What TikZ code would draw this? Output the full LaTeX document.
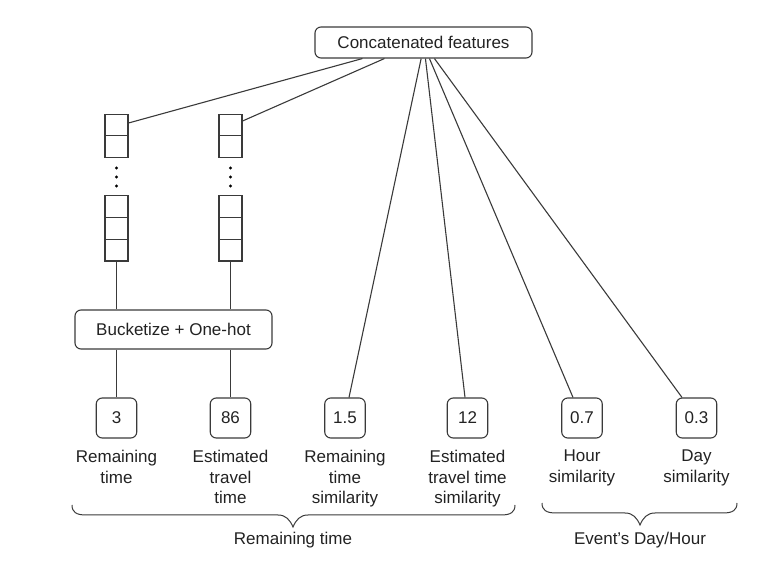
\documentclass[tikz,border=0pt]{standalone}
\usepackage{fontspec}
\setmainfont{Liberation Sans}
\usetikzlibrary{calc}
\definecolor{ln}{HTML}{3A3A3A}
\definecolor{tx}{HTML}{222222}
\tikzset{
  base/.style={font=\fontsize{17}{20.5}\selectfont, text=tx},
  rbox/.style={base, draw=ln, line width=1.1pt, rounded corners=6pt, inner sep=0pt},
  valbox/.style={rbox, minimum width=40.5pt, minimum height=40pt},
  cell/.style={draw=ln, line width=1.1pt, minimum width=23pt, minimum height=21.7pt, inner sep=0pt},
  lbl/.style={base, align=center, inner sep=0pt, anchor=north},
  conn/.style={draw=ln, line width=1.1pt},
  dotmark/.style={circle, fill=black, inner sep=0pt, minimum size=3.2pt},
}
\begin{document}
\begin{tikzpicture}[x=1pt,y=-1pt]
\useasboundingbox (0,0) rectangle (772,561);

% top box
\node[rbox, minimum width=217pt, minimum height=31pt] (concat) at (423.5,42.5) {Concatenated features};

% vectors
\foreach \v/\x in {1/116.5, 2/230.5} {
  \node[cell] (v\v a) at (\x,125) {};
  \node[cell] (v\v b) at (\x,146.7) {};
  \node[dotmark] (v\v d1) at (\x,168) {};
  \node[dotmark] (v\v d2) at (\x,177) {};
  \node[dotmark] (v\v d3) at (\x,186) {};
  \node[cell] (v\v c) at (\x,206.8) {};
  \node[cell] (v\v d) at (\x,228.5) {};
  \node[cell] (v\v e) at (\x,250.2) {};
}

% bucketize
\node[rbox, minimum width=197pt, minimum height=39pt] (bucket) at (173.5,329.5) {Bucketize + One-hot};

% value boxes
\node[valbox] (b1) at (116.5,418) {3};
\node[valbox] (b2) at (230.5,418) {86};
\node[valbox] (b3) at (345,418) {1.5};
\node[valbox] (b4) at (467.5,418) {12};
\node[valbox] (b5) at (582,418) {0.7};
\node[valbox] (b6) at (696.5,418) {0.3};

% labels
\node[lbl] (l1) at ($(b1.south)+(0,11.5)$) {Remaining\\time};
\node[lbl] (l2) at ($(b2.south)+(0,11.5)$) {Estimated\\travel\\time};
\node[lbl] (l3) at ($(b3.south)+(0,11.5)$) {Remaining\\time\\similarity};
\node[lbl] (l4) at ($(b4.south)+(0,11.5)$) {Estimated\\travel time\\similarity};
\node[lbl] (l5) at ($(b5.south)+(0,11.5)$) {Hour\\similarity};
\node[lbl] (l6) at ($(b6.south)+(0,11.5)$) {Day\\similarity};

% connectors
\draw[conn] ([xshift=48pt]concat.south west) -- ([yshift=2pt]v1a.east);
\draw[conn] ([xshift=70pt]concat.south west) -- ([yshift=4pt]v2a.east);
\draw[conn] ([xshift=106.7pt]concat.south west) -- ([xshift=4pt]b3.north);
\draw[conn] ([xshift=111pt]concat.south west) -- ([xshift=-2.5pt]b4.north);
\draw[conn] ([xshift=115pt]concat.south west) -- ([xshift=-9pt]b5.north);
\draw[conn] ([xshift=120pt]concat.south west) -- ([xshift=-14.5pt]b6.north);

\draw[conn] (v1e.south) -- (v1e.south |- bucket.north);
\draw[conn] (v2e.south) -- (v2e.south |- bucket.north);
\draw[conn] (b1.north |- bucket.south) -- (b1.north);
\draw[conn] (b2.north |- bucket.south) -- (b2.north);

% braces
\coordinate (br1s) at (72,505);
\coordinate (br1t) at (293,527);
\coordinate (br1e) at (515,505);
\draw[conn, line width=1pt] (br1s) .. controls (72,512) and (76,515) .. (86,515) -- (278,515)
  .. controls (286,515) and (290,520) .. (br1t)
  .. controls (296,520) and (300,515) .. (308,515) -- (501,515)
  .. controls (511,515) and (515,512) .. (br1e);
\node[base, inner sep=0pt] (bl1) at (293,540) {Remaining time};

\coordinate (br2s) at (542,503);
\coordinate (br2t) at (640,525);
\coordinate (br2e) at (737,503);
\draw[conn, line width=1pt] (br2s) .. controls (542,510) and (546,513) .. (556,513) -- (625,513)
  .. controls (633,513) and (637,518) .. (br2t)
  .. controls (643,518) and (647,513) .. (655,513) -- (723,513)
  .. controls (733,513) and (737,510) .. (br2e);
\node[base, inner sep=0pt] (bl2) at (640,540) {Event’s Day/Hour};
\end{tikzpicture}
\end{document}
